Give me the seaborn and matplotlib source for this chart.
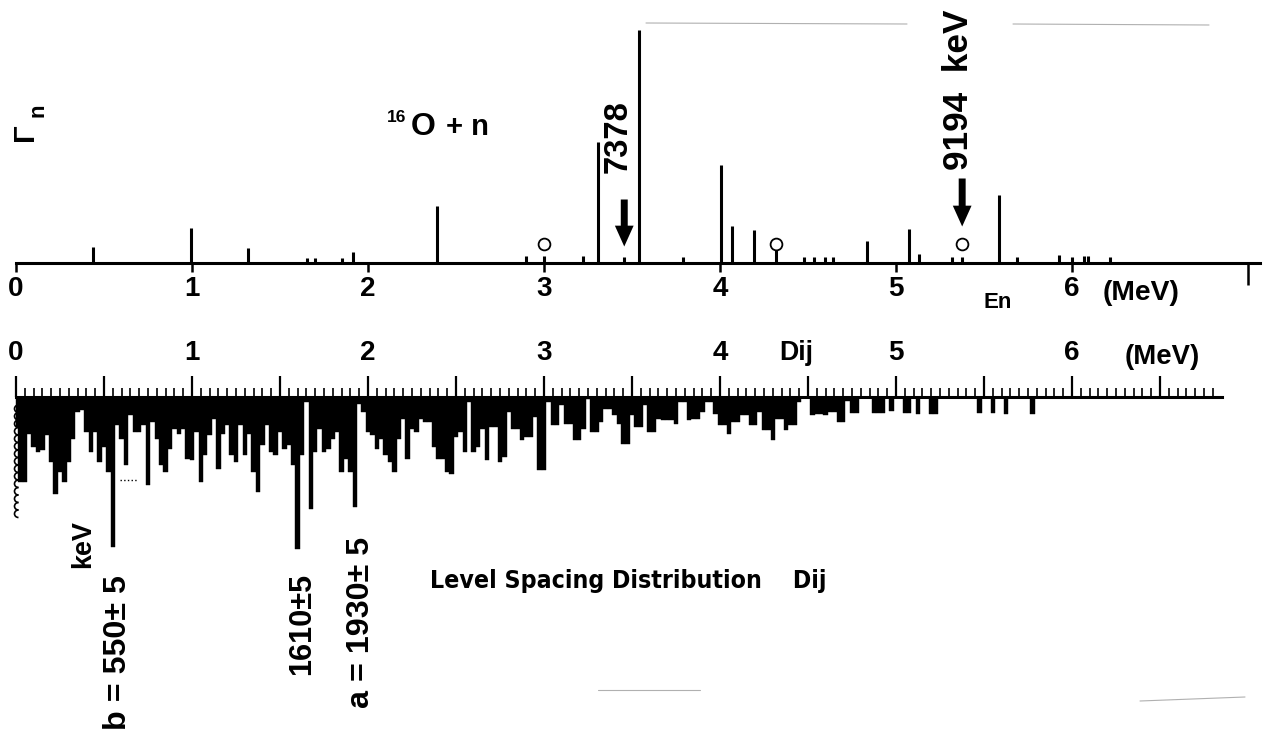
import numpy as np
import pandas as pd
import matplotlib
matplotlib.use("Agg")
import matplotlib.pyplot as plt
from matplotlib import font_manager
from matplotlib.font_manager import FontProperties
from matplotlib.patches import Arc
from matplotlib.ticker import FixedLocator
import seaborn as sns

# ── data ───────────────────────────────────────────────────────
# 16O + n resonances: energy (MeV) and neutron width (arb. units)
en_mev = [0.44, 0.995, 1.32, 1.655, 1.70, 1.85, 1.915, 2.39, 2.90, 3.00, 3.22, 3.307,
          3.456, 3.537, 3.787, 4.005, 4.07, 4.194, 4.319, 4.478, 4.536, 4.597, 4.644,
          4.834, 5.074, 5.13, 5.32, 5.376, 5.585, 5.685, 5.927, 6.00, 6.07, 6.09, 6.215]
gamma_n = [15.7, 34.7, 15, 4.7, 4.7, 4.7, 10.7, 57, 6.7, 6.7, 6.7, 120.7,
           5.7, 233, 5.7, 97.3, 36.7, 32.7, 18.3, 5.7, 5.7, 5.7, 5.7,
           21.7, 34, 8.3, 5.7, 5.7, 68, 5.7, 7.3, 5.7, 6.3, 6.3, 5.7]

circle_en = [3.00, 4.319, 5.376]
circle_h = [19, 19, 19]

arrow_en = [3.456, 5.376]
arrow_tip = [16, 36]
arrow_tail = [63, 84]

# level spacing distribution Dij, 25 keV bins starting at 0 MeV
dij_step = 0.025
dij_depth = [
    30, 85, 85, 37, 50, 55, 53, 38, 65, 97,
    75, 85, 65, 42, 15, 13, 35, 55, 35, 65,
    50, 75, 150, 28, 42, 68, 18, 35, 35, 28,
    88, 25, 42, 68, 75, 52, 32, 37, 32, 62,
    63, 35, 85, 58, 38, 22, 72, 37, 28, 58,
    65, 28, 58, 37, 75, 95, 48, 28, 55, 58,
    35, 52, 48, 68, 152, 58, 5, 112, 55, 32,
    55, 52, 42, 35, 75, 62, 75, 110, 7, 15,
    35, 38, 52, 42, 58, 65, 75, 42, 22, 62,
    32, 35, 22, 25, 25, 50, 62, 62, 75, 77,
    40, 35, 55, 5, 55, 50, 32, 63, 30, 30,
    65, 60, 15, 32, 32, 43, 40, 40, 20, 73,
    73, 5, 28, 28, 8, 27, 27, 43, 43, 32,
    2, 35, 35, 25, 12, 12, 18, 27, 47, 47,
    18, 30, 30, 8, 35, 35, 22, 23, 23, 23,
    27, 5, 5, 23, 22, 22, 15, 5, 5, 17,
    28, 28, 37, 25, 25, 18, 18, 28, 28, 15,
    33, 33, 43, 22, 22, 33, 28, 28, 5, 0,
    0, 18, 17, 17, 18, 15, 15, 25, 25, 4,
    16, 16, 0, 0, 0, 16, 16, 16, 0, 14,
    0, 0, 16, 16, 0, 17, 0, 0, 17, 17,
    0, 0, 0, 0, 0, 0, 0, 0, 0, 16,
    0, 0, 16, 0, 0, 17, 0, 0, 0, 0,
    0, 17,
]

top_ticks = [0, 1, 2, 3, 4, 5, 6]
bot_major = [0, 0.5, 1, 1.5, 2, 2.5, 3, 3.5, 4, 4.5, 5, 5.5, 6, 6.5]
bot_labels = ["0", "", "1", "", "2", "", "3", "", "4", "", "5", "", "6", ""]


def has_font(name):
    try:
        font_manager.findfont(name, fallback_to_default=False)
        return True
    except Exception:
        return False


sns.set_theme(style="white")
MAIN = "Liberation Sans" if has_font("Liberation Sans") else "DejaVu Sans"
plt.rcParams["font.family"] = [MAIN, "DejaVu Sans"]
plt.rcParams["font.weight"] = "bold"
for key in ["text.color", "axes.labelcolor", "xtick.color", "ytick.color"]:
    plt.rcParams[key] = "black"

# a condensed face for the long caption, if one is installed
NARROW = dict(family=MAIN)
if has_font("Liberation Sans Narrow"):
    NARROW = dict(family="Liberation Sans Narrow")
else:
    try:
        p = font_manager.findfont(FontProperties(family="DejaVu Sans", stretch="condensed",
                                                 weight="bold"), fallback_to_default=False)
        if "Condensed" in p:
            NARROW = dict(family="DejaVu Sans", fontstretch="condensed")
    except Exception:
        pass

# ── layout in pixels ─────────────────────────────────────────
W, H = 1269, 732
X0, SCALE = 16.0, 176.0          # pixel of 0 MeV, pixels per MeV
XLIM = (-X0 / SCALE, (W - X0) / SCALE)
BASE_TOP, BASE_BOT = 262.5, 397.0

fig = plt.figure(figsize=(W / 100, H / 100), dpi=100)
ax_top = fig.add_axes([0, 1 - BASE_TOP / H, 1, BASE_TOP / H])
ax_bot = fig.add_axes([0, 0, 1, (H - BASE_BOT) / H])
ov = fig.add_axes([0, 0, 1, 1])
ov.set_xlim(0, W); ov.set_ylim(H, 0); ov.axis("off")

# ── top: resonance widths ────────────────────────────────────
ax_top.vlines(en_mev, 0, gamma_n, colors="black", linewidth=2.2)
sns.scatterplot(x=circle_en, y=circle_h, ax=ax_top, marker="o", s=72,
                facecolor="white", edgecolor="black", linewidth=1.3, zorder=5)
for e, tip, tail in zip(arrow_en, arrow_tip, arrow_tail):
    ax_top.annotate("", xy=(e, tip), xytext=(e, tail),
                    arrowprops=dict(arrowstyle="simple,head_length=1.5,head_width=1.35,tail_width=0.5",
                                    color="black", lw=0, mutation_scale=10,
                                    shrinkA=0, shrinkB=0))
ax_top.set_xlim(*XLIM)
ax_top.set_ylim(0, BASE_TOP)
for s in ["top", "left", "right"]:
    ax_top.spines[s].set_visible(False)
ax_top.spines["bottom"].set_color("black")
ax_top.spines["bottom"].set_linewidth(2.2)
ax_top.spines["bottom"].set_bounds(0, 7.07)
ax_top.set_yticks([])
ax_top.set_xticks(top_ticks)
ax_top.set_xticklabels([str(t) for t in top_ticks])
ax_top.set_xticks([7], minor=True)
ax_top.tick_params(axis="x", which="major", direction="out", length=6.5, width=1.8,
                   color="black", labelcolor="black", labelsize=20, pad=3.5, bottom=True)
ax_top.tick_params(axis="x", which="minor", direction="out", length=16, width=1.8,
                   color="black", bottom=True)

# ── bottom: level spacing distribution (drawn downward) ─────
n = len(dij_depth)
dij = pd.DataFrame({"E": np.arange(n) * dij_step, "depth": dij_depth})
edges = [0.0] + [(k - 0.5) * dij_step for k in range(1, n + 1)]
sns.histplot(data=dij, x="E", weights="depth", bins=edges, ax=ax_bot,
             color="black", edgecolor="black", linewidth=0.3, alpha=1)
ax_bot.set_xlim(*XLIM)
ax_bot.set_ylim(H - BASE_BOT, 0)
ax_bot.set_xlabel(""); ax_bot.set_ylabel("")
for s in ["bottom", "left", "right"]:
    ax_bot.spines[s].set_visible(False)
ax_bot.spines["top"].set_color("black")
ax_bot.spines["top"].set_linewidth(2.2)
ax_bot.spines["top"].set_bounds(0, 6.85)
ax_bot.set_yticks([])
ax_bot.xaxis.set_ticks_position("top")
ax_bot.xaxis.set_major_locator(FixedLocator(bot_major))
ax_bot.set_xticklabels(bot_labels)
ax_bot.xaxis.set_minor_locator(FixedLocator(np.round(np.arange(0, 6.81, 0.05), 2)))
ax_bot.tick_params(axis="x", which="major", direction="out", length=15, width=1.6,
                   color="black", labelcolor="black", labelsize=20, pad=7,
                   top=True, bottom=False)
ax_bot.tick_params(axis="x", which="minor", direction="out", length=6.5, width=1.2,
                   color="black", top=True, bottom=False)

# ── text ─────────────────────────────────────────────────────
renderer = fig.canvas.get_renderer()


def put(s, x0, x1, y0, y1, rot=0, font=None, weight="bold"):
    kw = font or dict(family=MAIN)
    t = ov.text((x0 + x1) / 2, (y0 + y1) / 2, s, rotation=rot, ha="center",
                va="center", fontsize=20, fontweight=weight, **kw)
    bb = t.get_window_extent(renderer)
    got = bb.width if rot == 0 else bb.height
    want = (x1 - x0) if rot == 0 else (y1 - y0)
    t.set_fontsize(20 * want / got)
    return t


ov.text(25, 132, "Γ", rotation=90, ha="center", va="center", fontsize=21)
ov.text(38, 110, "n", rotation=90, ha="center", va="center", fontsize=16)
ov.text(387, 122, "16", ha="left", va="baseline", fontsize=12.5)
ov.text(411, 135, "O", ha="left", va="baseline", fontsize=23)
ov.text(446, 135, "+ n", ha="left", va="baseline", fontsize=21)

put("7378", 606, 630, 100, 173, rot=90)
put("9194  keV", 946, 970, 10, 170, rot=90)
ov.text(998, 302, "En", ha="center", va="center", fontsize=16)
put("(MeV)", 1103, 1180, 283, 302)

put("Dij", 779, 813, 345, 362)
put("(MeV)", 1125, 1200, 347, 368)

put("keV", 72, 94, 520, 568, rot=90)
put("b = 550± 5", 105, 131, 575, 730, rot=90)
put("1610±5", 290, 314, 573, 675, rot=90)
put("a = 1930± 5", 348, 374, 537, 708, rot=90)
put("Level Spacing Distribution    Dij", 430, 827, 570, 592, font=NARROW)

# scalloped edge and small marks at the left of the spacing plot
for i in range(15):
    ov.add_patch(Arc((18.5, 405 + 7.5 * i + 3.75), 8, 7.5, theta1=90, theta2=270,
                     color="black", lw=1.2))
ov.plot([19, 19], [399, 405], ls=":", lw=1, color="black")
ov.plot([120, 137], [480, 480], ls=":", lw=1, color="black")

# faint scan marks
for xs, ys in [([646, 907], [23, 24]), ([1013, 1209], [24, 25]),
               ([598, 700], [690, 690]), ([1140, 1245], [701, 697])]:
    ov.plot(xs, ys, color="#b0b0b0", lw=0.8)

fig.savefig("out.png", dpi=100)
plt.close(fig)
